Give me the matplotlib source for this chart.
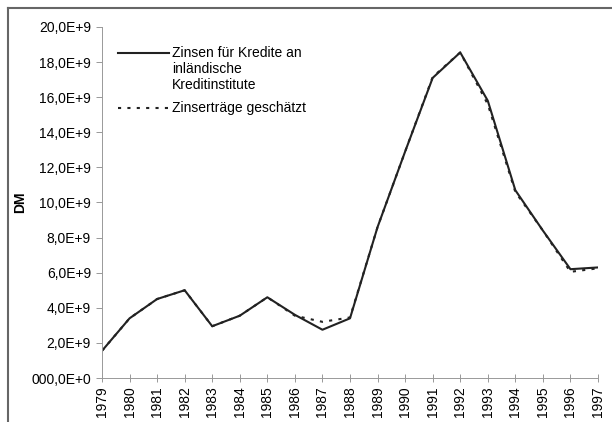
#!/usr/bin/env python3
"""Zinsen für Kredite an inländische Kreditinstitute vs. geschätzte Zinserträge."""

import matplotlib
matplotlib.use("Agg")
import matplotlib.pyplot as plt
from matplotlib.lines import Line2D

plt.rcParams["font.family"] = ["Liberation Sans", "DejaVu Sans"]

years = list(range(1979, 1998))
zinsen = [1.55, 3.4, 4.5, 5.0, 2.95, 3.55, 4.6, 3.6, 2.75, 3.4,
          8.6, 12.9, 17.1, 18.55, 15.8, 10.7, 8.4, 6.2, 6.3]
geschaetzt = [1.55, 3.4, 4.5, 5.0, 2.95, 3.55, 4.6, 3.55, 3.2, 3.45,
              8.6, 12.9, 17.15, 18.55, 15.6, 10.6, 8.4, 6.05, 6.25]
ytick_vals = [0, 2, 4, 6, 8, 10, 12, 14, 16, 18, 20]
ytick_labels = ["000,0E+0", "2,0E+9", "4,0E+9", "6,0E+9", "8,0E+9", "10,0E+9",
                "12,0E+9", "14,0E+9", "16,0E+9", "18,0E+9", "20,0E+9"]
label_solid = ["Zinsen für Kredite an", "inländische", "Kreditinstitute"]
label_dotted = "Zinserträge geschätzt"

FS = 10
LINE_C = "#222222"
DOTS = (0, (1.5, 3))

fig = plt.figure(figsize=(6.12, 4.22), dpi=100)
ax = fig.add_axes([102 / 612, 1 - 378 / 422, 496 / 612, 351 / 422])

ax.plot(years, [v * 1e9 for v in zinsen], color=LINE_C, lw=1.5)
ax.plot(years, [v * 1e9 for v in geschaetzt], color=LINE_C, lw=1.5, ls=DOTS)

ax.set_xlim(1979, 1997)
ax.set_ylim(0, 20e9)
ax.set_xticks(years)
ax.set_xticklabels([str(y) for y in years], rotation=90, fontsize=FS)
ax.set_yticks([v * 1e9 for v in ytick_vals])
ax.set_yticklabels(ytick_labels, fontsize=FS)
ax.tick_params(axis="x", direction="inout", length=6, width=0.6, color="#888888", pad=3)
ax.tick_params(axis="y", direction="out", length=4, width=0.6, color="#888888", pad=4)
ax.set_ylabel("DM", fontsize=FS, fontweight="bold", labelpad=3)

for side in ("top", "right"):
    ax.spines[side].set_visible(False)
for side in ("left", "bottom"):
    ax.spines[side].set_color("#999999")
    ax.spines[side].set_linewidth(0.7)

# legend drawn by hand: handle sits next to the first text line
tr = ax.transAxes
solid_y = [0.926, 0.879, 0.835]
dotted_y = 0.769
ax.add_line(Line2D([0.032, 0.135], [solid_y[0]] * 2, transform=tr, color=LINE_C, lw=1.5))
for y, txt in zip(solid_y, label_solid):
    ax.text(0.141, y, txt, transform=tr, fontsize=FS, va="center", ha="left")
ax.add_line(Line2D([0.032, 0.135], [dotted_y] * 2, transform=tr, color=LINE_C, lw=1.5, ls=DOTS))
ax.text(0.141, dotted_y, label_dotted, transform=tr, fontsize=FS, va="center", ha="left")

# frame around the chart (left and top edges)
fig.add_artist(Line2D([8 / 612, 8 / 612], [0, 1 - 8 / 422], color="#666666", lw=1.5))
fig.add_artist(Line2D([8 / 612, 1], [1 - 8 / 422, 1 - 8 / 422], color="#666666", lw=1.5))

fig.savefig("out.png", dpi=100)
